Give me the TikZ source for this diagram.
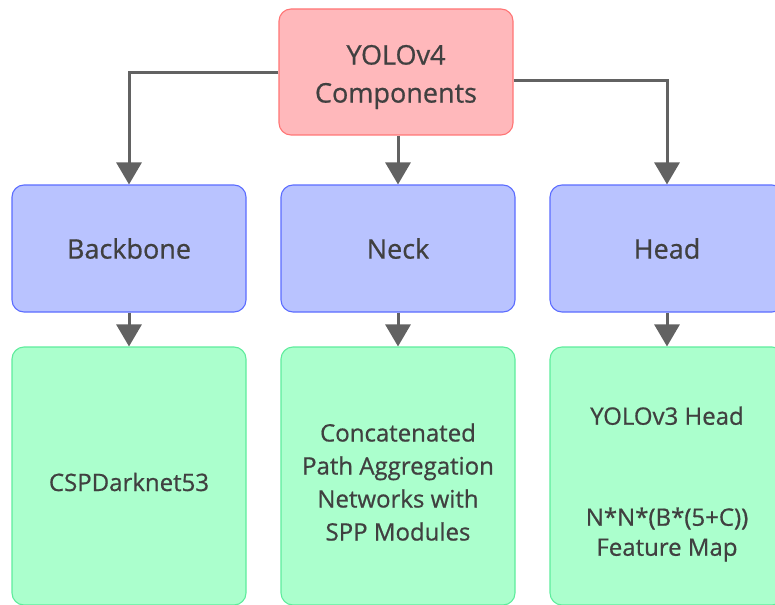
\documentclass[tikz,border=0pt]{standalone}
\usepackage{fontspec}
\setmainfont{Open Sans}[FakeBold=0.7]
\usetikzlibrary{arrows.meta}

\definecolor{rootfill}{HTML}{FFB8BB}
\definecolor{rootline}{HTML}{FF7575}
\definecolor{partfill}{HTML}{B9C3FF}
\definecolor{partline}{HTML}{5B6CFF}
\definecolor{detailfill}{HTML}{ABFFCD}
\definecolor{detailline}{HTML}{5EEC9C}
\definecolor{linkgray}{HTML}{626262}
\definecolor{textgray}{HTML}{404040}

\tikzset{
  basebox/.style={rounded corners=12pt, line width=1.1pt, minimum width=234pt,
    inner sep=0pt, align=center, text=textgray},
  rootbox/.style={basebox, fill=rootfill, draw=rootline, minimum height=126pt},
  partbox/.style={basebox, fill=partfill, draw=partline, minimum height=127pt,
    font=\fontsize{27}{33}\selectfont},
  detailbox/.style={basebox, fill=detailfill, draw=detailline, minimum height=258pt},
  roottext/.style={align=center, text=textgray, inner sep=0pt,
    font=\fontsize{27}{38}\selectfont},
  detailtext/.style={align=center, text=textgray, inner sep=0pt,
    font=\fontsize{24}{33}\selectfont},
  link/.style={draw=linkgray, line width=3pt,
    -{Triangle[width=25pt, length=22pt, fill=linkgray]}},
}

\begin{document}
\begin{tikzpicture}[x=1pt, y=-1pt]
  \useasboundingbox (0,0) rectangle (775,604);
  \clip (0,0) rectangle (775,604);

  % root
  \node[rootbox] (root) at (396,72) {};
  \node[roottext] (rt) at ([yshift=-5pt]root.center) {YOLOv4\\Components};

  % three components
  \node[partbox] (b1) at (129,248.5) {Backbone};
  \node[partbox] (b2) at (398,248.5) {Neck};
  \node[partbox] (b3) at (667,248.5) {Head};

  % details
  \node[detailbox] (g1) at (129,476) {};
  \node[detailbox] (g2) at (398,476) {};
  \node[detailbox] (g3) at (667,476) {};

  \node[detailtext] (t1) at ([yshift=-6pt]g1.center) {CSPDarknet53};
  \node[detailtext] (t2) at ([yshift=-6pt]g2.center)
    {Concatenated\\Path Aggregation\\Networks with\\SPP Modules};
  \node[detailtext] (t3) at ([yshift=-8pt]g3.center)
    {YOLOv3 Head\\[68pt]N*N*(B*(5+C))\\[-3pt]Feature Map};

  % connectors
  \draw[link] ([yshift=-1pt]root.west) -| (b1.north);
  \draw[link] (root.south -| b2.north) -- (b2.north);
  \draw[link] ([yshift=-9pt]root.east) -| (b3.north);

  \draw[link] (b1.south) -- (g1.north);
  \draw[link] (b2.south) -- (g2.north);
  \draw[link] (b3.south) -- (g3.north);
\end{tikzpicture}
\end{document}
